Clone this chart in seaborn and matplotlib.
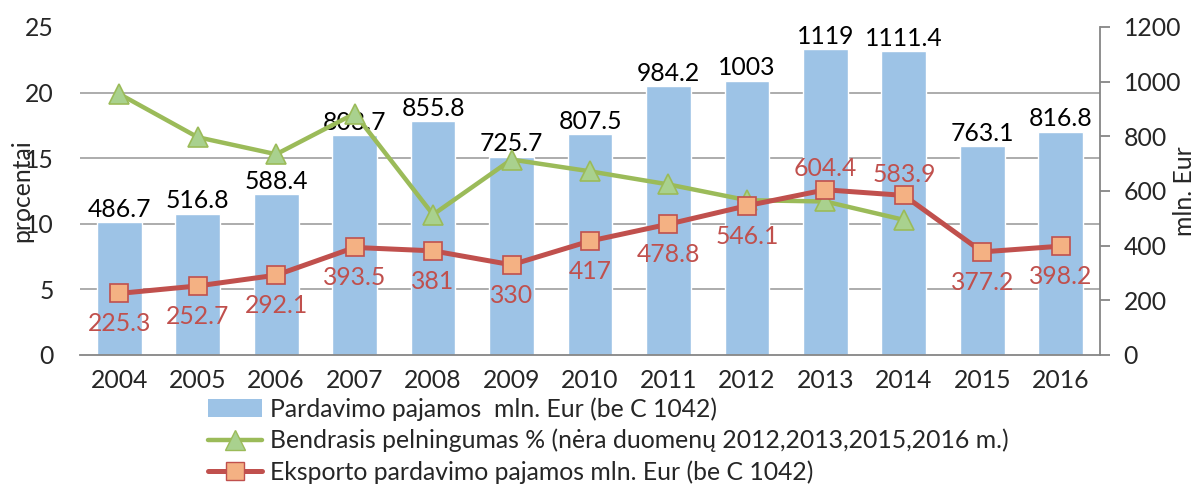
import numpy as np
import pandas as pd
import matplotlib
matplotlib.use('Agg')
import matplotlib.pyplot as plt
import seaborn as sns
from matplotlib.lines import Line2D
from matplotlib.patches import Patch

years = ['2004', '2005', '2006', '2007', '2008', '2009', '2010',
         '2011', '2012', '2013', '2014', '2015', '2016']
sales = [486.7, 516.8, 588.4, 803.7, 855.8, 725.7, 807.5,
         984.2, 1003, 1119, 1111.4, 763.1, 816.8]
profit = [19.9, 16.6, 15.3, 18.4, 10.7, 14.9, 14.0,
          13.0, 11.8, 11.7, 10.3, np.nan, np.nan]
export = [225.3, 252.7, 292.1, 393.5, 381, 330, 417,
          478.8, 546.1, 604.4, 583.9, 377.2, 398.2]

lbl_sales = 'Pardavimo pajamos  mln. Eur (be C 1042)'
lbl_profit = 'Bendrasis pelningumas % (nėra duomenų 2012,2013,2015,2016 m.)'
lbl_export = 'Eksporto pardavimo pajamos mln. Eur (be C 1042)'

df = pd.DataFrame({'year': years, 'sales': sales, 'profit': profit, 'export': export})
df['pos'] = np.arange(len(df))

sns.set_theme(style='white')
plt.rcParams['font.family'] = ['Lato', 'DejaVu Sans']
FS = 17.8

c_bar = '#9DC3E6'
c_green = '#9BBB59'
c_green_fill = '#A9D18E'
c_red = '#C0504D'
c_red_fill = '#F4B183'
c_grid = '#A6A6A6'

fig = plt.figure(figsize=(11.99, 4.87), dpi=100)
ax = fig.add_subplot(111)
fig.subplots_adjust(left=80/1199, right=1100/1199, top=1-27/487, bottom=1-355/487)

# bars (right scale, mln. Eur)
sns.barplot(data=df, x='year', y='sales', color=c_bar, saturation=1, width=0.57, ax=ax)
ax.set_ylim(0, 1200)
ax.set_xlim(-0.5, 12.5)
ax.bar_label(ax.containers[0], labels=[f'{v:g}' for v in sales], padding=1, fontsize=FS, color='black')

# green line (left scale, percent)
ax_pct = ax.twinx()
sns.lineplot(data=df, x='pos', y='profit', ax=ax_pct, color=c_green, lw=3.2,
             marker='^', markersize=14, markerfacecolor=c_green_fill, markeredgecolor=c_green,
             markeredgewidth=1.2)

# red line (right scale, export)
ax_red = ax.twinx()
sns.lineplot(data=df, x='pos', y='export', ax=ax_red, color=c_red, lw=3.6,
             marker='s', markersize=12.5, markerfacecolor=c_red_fill, markeredgecolor=c_red,
             markeredgewidth=1.2)
ax_red.set_ylim(0, 1200)
ax_red.set_axis_off()
ax_red.set_xlim(-0.5, 12.5)
for i, v in enumerate(export):
    above = years[i] in ('2013', '2014')
    ax_red.annotate(f'{v:g}', (i, v), xytext=(0, 15 if above else -22), textcoords='offset points',
                    ha='center', va='center', fontsize=FS, color=c_red)

# percent axis on the left
ax_pct.set_ylim(0, 25)
ax_pct.set_yticks(np.arange(0, 26, 5))
ax_pct.yaxis.tick_left()
ax_pct.yaxis.set_label_position('left')
ax_pct.tick_params(axis='y', length=0, labelsize=FS, pad=19)
ax_pct.set_ylabel('procentai', fontsize=FS)
ax_pct.yaxis.set_label_coords(-0.046, 0.5)
ax_pct.set_xlabel('')
for s in ax_pct.spines.values():
    s.set_visible(False)

# mln. Eur axis on the right, gridlines every 5 % (= 240 mln.)
ax.set_yticks(np.arange(0, 1201, 240), minor=True)
ax.yaxis.grid(True, which='minor', color=c_grid, lw=1.3)
ax.set_axisbelow(True)
ax.yaxis.tick_right()
ax.set_yticks(np.arange(0, 1201, 200))
ax.tick_params(axis='y', which='major', direction='out', length=7, width=1.3, color='#868686',
               labelsize=FS, pad=10)
ax.tick_params(axis='y', which='minor', length=0)
ax.tick_params(axis='x', length=0, labelsize=FS, pad=10)
ax.set_xlabel('')
ax.yaxis.set_label_position('right')
ax.set_ylabel('mln. Eur', fontsize=FS)
ax.yaxis.set_label_coords(1.072, 0.5)
for s in ['top', 'left']:
    ax.spines[s].set_visible(False)
for s in ['right', 'bottom']:
    ax.spines[s].set_color('#868686')
    ax.spines[s].set_linewidth(1.3)

handles = [
    Patch(facecolor=c_bar, edgecolor='none'),
    Line2D([], [], color=c_green, lw=3.2, marker='^', markersize=14,
           markerfacecolor=c_green_fill, markeredgecolor=c_green),
    Line2D([], [], color=c_red, lw=3.6, marker='s', markersize=12.5,
           markerfacecolor=c_red_fill, markeredgecolor=c_red),
]
fig.legend(handles, [lbl_sales, lbl_profit, lbl_export], loc='upper left',
           bbox_to_anchor=(208/1199, 1-397/487), frameon=False, fontsize=FS,
           handlelength=2.2, handletextpad=0.3, labelspacing=0.33,
           borderpad=0, borderaxespad=0)

fig.savefig('out.png', dpi=100)
